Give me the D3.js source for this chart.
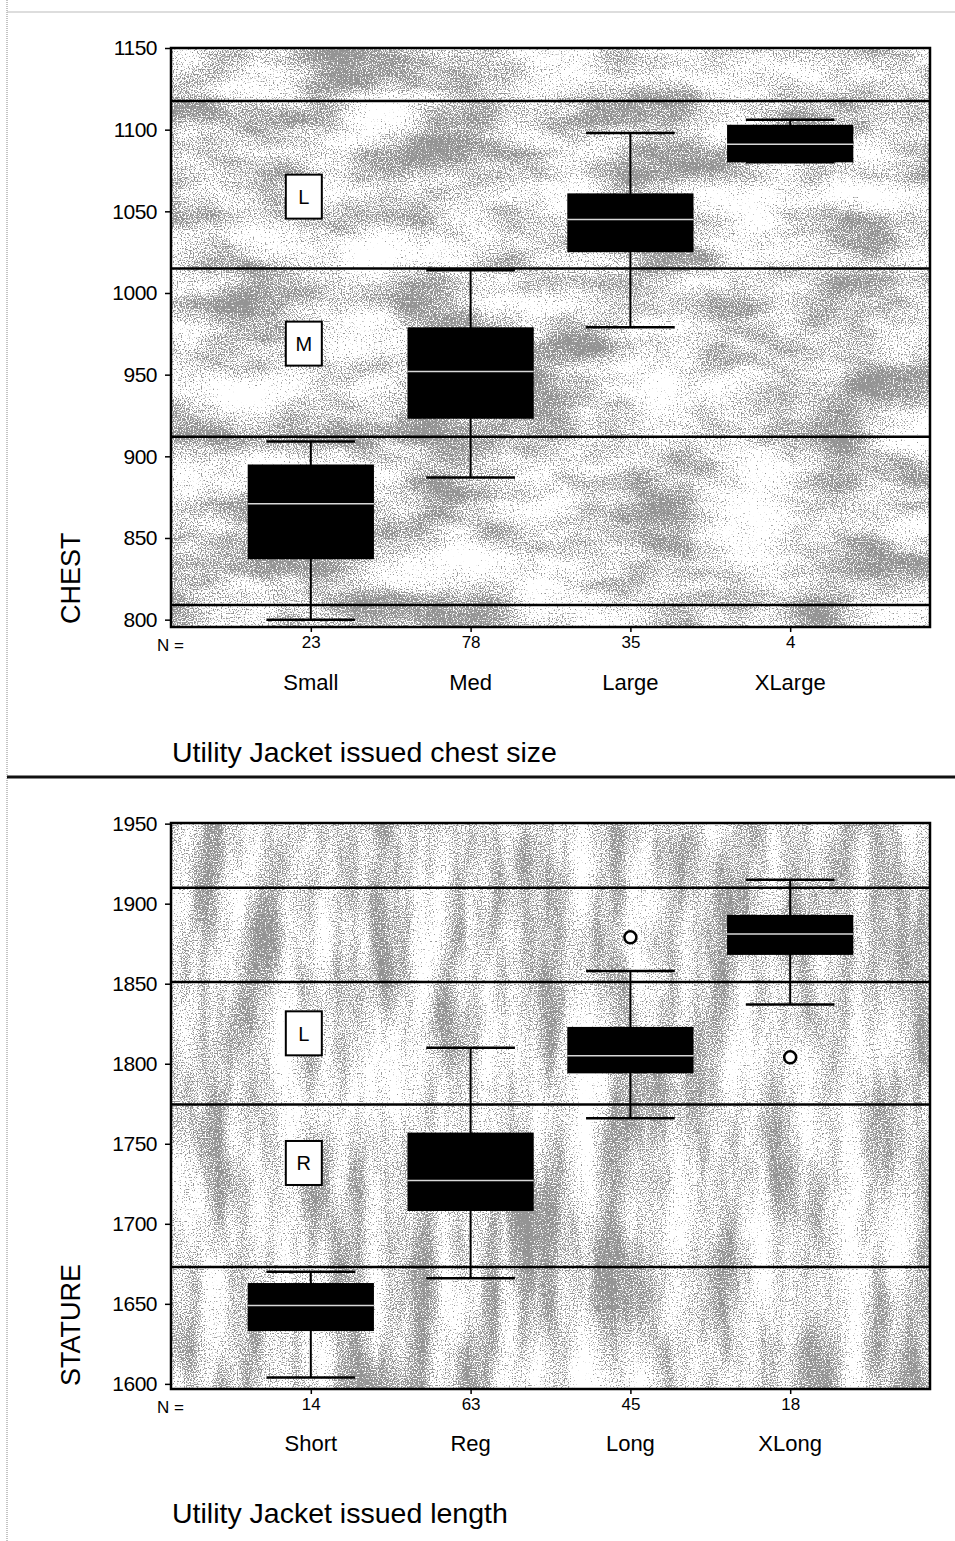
<!DOCTYPE html>
<html><head><meta charset="utf-8">
<script src="https://cdn.jsdelivr.net/npm/d3@7"></script>
<style>
html,body{margin:0;padding:0;background:#fff;}
svg{display:block;font-family:"Liberation Sans",Arial,sans-serif;}
</style></head>
<body>
<svg id="fig" width="955" height="1541"></svg>
<script>
// ---------- Data: chest size chart ----------
const chestCats  = ["Small", "Med", "Large", "XLarge"];
const chestN     = [23, 78, 35, 4];
const chestLow   = [800, 887, 979, 1080];
const chestQ1    = [837, 923, 1025, 1080];
const chestMed   = [871, 952, 1045, 1091];
const chestQ3    = [895, 979, 1061, 1103];
const chestHigh  = [909, 1014, 1098, 1106];
const chestBands = [809, 912, 1015, 1117.5];
const chestSizeLabels = ["L", "M"];
const chestSizeLabelValues = [1059, 969];
const chestTicks = [800, 850, 900, 950, 1000, 1050, 1100, 1150];
const chestOutliers = [];

// ---------- Data: stature chart ----------
const lenCats  = ["Short", "Reg", "Long", "XLong"];
const lenN     = [14, 63, 45, 18];
const lenLow   = [1604, 1666, 1766, 1837];
const lenQ1    = [1633, 1708, 1794, 1868];
const lenMed   = [1649, 1727, 1805, 1881];
const lenQ3    = [1663, 1757, 1823, 1893];
const lenHigh  = [1670, 1810, 1858, 1915];
const lenBands = [1673, 1774.5, 1851, 1910];
const lenSizeLabels = ["L", "R"];
const lenSizeLabelValues = [1819, 1738];
const lenTicks = [1600, 1650, 1700, 1750, 1800, 1850, 1900, 1950];
const lenOutlierCats = ["Long", "XLong"];
const lenOutlierVals = [1879, 1804];

const svg = d3.select("#fig");
const defs = svg.append("defs");

function makeTexture(id, freq, seed) {
  const f = defs.append("filter").attr("id", id)
    .attr("x", 0).attr("y", 0).attr("width", 1).attr("height", 1)
    .attr("color-interpolation-filters", "sRGB");
  const opaque = "1 0 0 0 0  0 1 0 0 0  0 0 1 0 0  0 0 0 0 1";
  f.append("feTurbulence").attr("type", "fractalNoise").attr("baseFrequency", freq)
    .attr("numOctaves", 3).attr("seed", seed).attr("result", "low0");
  f.append("feColorMatrix").attr("in", "low0").attr("type", "matrix").attr("values", opaque).attr("result", "low");
  f.append("feTurbulence").attr("type", "fractalNoise").attr("baseFrequency", "0.75")
    .attr("numOctaves", 1).attr("seed", seed + 7).attr("result", "hi0");
  f.append("feColorMatrix").attr("in", "hi0").attr("type", "matrix").attr("values", opaque).attr("result", "hi");
  f.append("feComposite").attr("in", "low").attr("in2", "hi").attr("operator", "arithmetic")
    .attr("k1", 0).attr("k2", 1.0).attr("k3", 1.5).attr("k4", -1.12).attr("result", "sum");
  f.append("feColorMatrix").attr("in", "sum").attr("type", "matrix")
    .attr("values", "0 0 0 0 0.58  0 0 0 0 0.58  0 0 0 0 0.58  6 0 0 0 -0.72").attr("result", "dots");
  f.append("feFlood").attr("flood-color", "#ffffff").attr("result", "white");
  f.append("feComposite").attr("in", "dots").attr("in2", "white").attr("operator", "over");
}
makeTexture("texTop", "0.010 0.022", 3);
makeTexture("texBot", "0.030 0.006", 11);

// page frame
svg.append("line").attr("x1", 7).attr("x2", 7).attr("y1", 0).attr("y2", 1541)
  .attr("stroke", "#888").attr("stroke-width", 1).attr("stroke-dasharray", "1,1");
svg.append("line").attr("x1", 7).attr("x2", 955).attr("y1", 12).attr("y2", 12)
  .attr("stroke", "#bbb").attr("stroke-width", 1);
svg.append("line").attr("x1", 7).attr("x2", 955).attr("y1", 777).attr("y2", 777)
  .attr("stroke", "#111").attr("stroke-width", 3);

function drawPanel(cfg) {
  const L = 171, R = 930;
  const g = svg.append("g");
  const x = d3.scalePoint().domain(cfg.cats).range([L, R]).padding(0.875);
  const y = d3.scaleLinear().domain(cfg.domain).range([cfg.bottom, cfg.top]);
  const step = x.step();
  const boxW = step * 0.79, capW = step * 0.555;

  // textured background
  g.append("rect").attr("x", L).attr("y", cfg.top).attr("width", R - L)
    .attr("height", cfg.bottom - cfg.top).attr("filter", `url(#${cfg.tex})`);

  // size band lines
  g.selectAll(".band").data(cfg.bands).join("line")
    .attr("x1", L).attr("x2", R).attr("y1", d => y(d)).attr("y2", d => y(d))
    .attr("stroke", "#000").attr("stroke-width", 2.5);

  // size labels
  const lab = g.selectAll(".szl").data(cfg.sizeLabels).join("g")
    .attr("transform", (d, i) => `translate(${x(cfg.cats[0]) - 7},${y(cfg.sizeLabelValues[i])})`);
  lab.append("rect").attr("x", -18).attr("y", -22).attr("width", 36).attr("height", 44)
    .attr("fill", "#fff").attr("stroke", "#000").attr("stroke-width", 2);
  lab.append("text").attr("text-anchor", "middle").attr("dy", "0.36em")
    .attr("font-size", 20).text(d => d);

  // boxes
  cfg.cats.forEach((c, i) => {
    const cx = x(c);
    const bg = g.append("g");
    bg.append("line").attr("x1", cx).attr("x2", cx).attr("y1", y(cfg.high[i])).attr("y2", y(cfg.low[i]))
      .attr("stroke", "#000").attr("stroke-width", 2);
    [cfg.high[i], cfg.low[i]].forEach(v => {
      bg.append("line").attr("x1", cx - capW / 2).attr("x2", cx + capW / 2)
        .attr("y1", y(v)).attr("y2", y(v)).attr("stroke", "#000").attr("stroke-width", 2.5);
    });
    bg.append("rect").attr("x", cx - boxW / 2).attr("width", boxW)
      .attr("y", y(cfg.q3[i])).attr("height", y(cfg.q1[i]) - y(cfg.q3[i]))
      .attr("fill", "#000");
    bg.append("line").attr("x1", cx - boxW / 2).attr("x2", cx + boxW / 2)
      .attr("y1", y(cfg.med[i])).attr("y2", y(cfg.med[i]))
      .attr("stroke", "#d8d8d8").attr("stroke-width", 1.5);
  });

  // outliers
  g.selectAll(".out").data(cfg.outCats).join("circle")
    .attr("cx", d => x(d)).attr("cy", (d, i) => y(cfg.outVals[i])).attr("r", 6)
    .attr("fill", "#fff").attr("stroke", "#000").attr("stroke-width", 2.5);

  // frame
  g.append("rect").attr("x", L).attr("y", cfg.top).attr("width", R - L)
    .attr("height", cfg.bottom - cfg.top).attr("fill", "none")
    .attr("stroke", "#000").attr("stroke-width", 2.5);

  // y axis
  const ya = g.append("g").attr("transform", `translate(${L},0)`)
    .call(d3.axisLeft(y).tickValues(cfg.ticks).tickSize(6).tickPadding(8).tickFormat(d3.format("d")));
  ya.select(".domain").remove();
  ya.selectAll("line").attr("stroke", "#000").attr("stroke-width", 1.5);
  ya.selectAll("text").attr("font-size", 21).attr("fill", "#000")
    .attr("font-family", "'Liberation Sans',Arial,sans-serif").style("letter-spacing", "-0.5px");

  // x axis: N counts
  const xa = g.append("g").attr("transform", `translate(0,${cfg.bottom})`)
    .call(d3.axisBottom(x).tickSize(5).tickPadding(4)
      .tickFormat((d, i) => String(cfg.n[i])));
  xa.select(".domain").remove();
  xa.selectAll("line").attr("stroke", "#000").attr("stroke-width", 1.5);
  xa.selectAll("text").attr("font-size", 17).attr("fill", "#000")
    .attr("font-family", "'Liberation Sans',Arial,sans-serif");
  g.append("text").attr("x", 157).attr("y", cfg.bottom + 18).attr("dy", "0.36em")
    .attr("font-size", 17).text("N =");

  // category names
  g.selectAll(".cat").data(cfg.cats).join("text")
    .attr("x", d => x(d)).attr("y", cfg.catY).attr("dy", "0.36em")
    .attr("text-anchor", "middle").attr("font-size", 22).text(d => d);

  // axis title
  g.append("text").attr("transform", `translate(80,${cfg.bottom - 3}) rotate(-90)`)
    .attr("font-size", 27).text(cfg.yTitle);

  // caption
  g.append("text").attr("x", 172).attr("y", cfg.capY).attr("dy", "0.36em")
    .attr("font-size", 28.5).text(cfg.caption);
}

drawPanel({
  cats: chestCats, n: chestN, low: chestLow, q1: chestQ1, med: chestMed, q3: chestQ3, high: chestHigh,
  bands: chestBands, sizeLabels: chestSizeLabels, sizeLabelValues: chestSizeLabelValues,
  ticks: chestTicks, outCats: chestOutliers, outVals: [],
  domain: [795.5, 1150], top: 48, bottom: 627, tex: "texTop",
  catY: 682, capY: 752, yTitle: "CHEST", caption: "Utility Jacket issued chest size"
});

drawPanel({
  cats: lenCats, n: lenN, low: lenLow, q1: lenQ1, med: lenMed, q3: lenQ3, high: lenHigh,
  bands: lenBands, sizeLabels: lenSizeLabels, sizeLabelValues: lenSizeLabelValues,
  ticks: lenTicks, outCats: lenOutlierCats, outVals: lenOutlierVals,
  domain: [1596.8, 1950.4], top: 823, bottom: 1389, tex: "texBot",
  catY: 1443, capY: 1513, yTitle: "STATURE", caption: "Utility Jacket issued length"
});
</script>
</body></html>
